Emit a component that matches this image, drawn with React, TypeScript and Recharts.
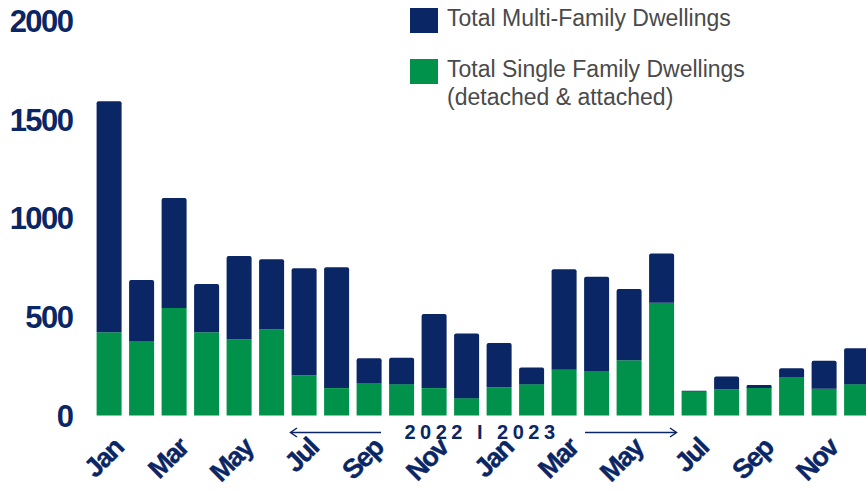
import { Bar, BarChart, XAxis, YAxis } from "recharts";

const NAVY = "#0a2664";
const GREEN = "#00924a";

const months = [
  "Jan 2022", "Feb 2022", "Mar 2022", "Apr 2022", "May 2022", "Jun 2022",
  "Jul 2022", "Aug 2022", "Sep 2022", "Oct 2022", "Nov 2022", "Dec 2022",
  "Jan 2023", "Feb 2023", "Mar 2023", "Apr 2023", "May 2023", "Jun 2023",
  "Jul 2023", "Aug 2023", "Sep 2023", "Oct 2023", "Nov 2023", "Dec 2023",
];

const singleFamily = [
  422, 378, 545, 422, 385, 436, 204, 139, 165, 159, 139, 88,
  144, 159, 232, 226, 280, 572, 120, 134, 140, 195, 136, 159,
];

const multiFamily = [
  1171, 309, 558, 245, 424, 356, 542, 612, 125, 134, 375, 328,
  224, 84, 509, 478, 361, 249, 6, 64, 14, 44, 142, 182,
];

const yTicks = [0, 500, 1000, 1500, 2000];

const seriesNames = {
  multi: "Total Multi-Family Dwellings",
  single: ["Total Single Family Dwellings", "(detached & attached)"],
};

const data = months.map((m, i) => ({
  month: m,
  single: singleFamily[i],
  multi: multiFamily[i],
}));

const FONT = "'Liberation Sans', Arial, sans-serif";

function MonthTick({ x, y, payload }: any) {
  return (
    <g transform={`translate(${x + 16},${y + 26}) rotate(-45)`}>
      <text
        textAnchor="end"
        fill={NAVY}
        stroke={NAVY}
        strokeWidth={0.4}
        fontSize={27}
        fontWeight={700}
        fontFamily={FONT}
        letterSpacing={-1.6}
      >
        {String(payload.value).split(" ")[0]}
      </text>
    </g>
  );
}

function LegendBox() {
  const row = { display: "flex", alignItems: "flex-start" } as const;
  const swatch = (c: string) => ({
    width: 28,
    height: 25,
    background: c,
    marginRight: 9,
    flexShrink: 0,
  });
  return (
    <div
      style={{
        position: "absolute",
        left: 410,
        top: 8,
        fontFamily: FONT,
        fontSize: 23,
        color: "#4a4a4a",
        lineHeight: "27.5px",
      }}
    >
      <div style={row}>
        <div style={swatch(NAVY)} />
        <div style={{ marginTop: -3 }}>{seriesNames.multi}</div>
      </div>
      <div style={{ ...row, marginTop: 26 }}>
        <div style={swatch(GREEN)} />
        <div style={{ marginTop: -3 }}>
          {seriesNames.single[0]}
          <br />
          {seriesNames.single[1]}
        </div>
      </div>
    </div>
  );
}

function PeriodNote() {
  return (
    <svg
      width={866}
      height={491}
      style={{ position: "absolute", left: 0, top: 0, pointerEvents: "none" }}
    >
      <line x1={381} y1={432.5} x2={291} y2={432.5} stroke={NAVY} strokeWidth={1.5} />
      <polyline points="297,428 290.5,432.5 297,437" fill="none" stroke={NAVY} strokeWidth={1.5} />
      <line x1={585} y1={432.5} x2={676} y2={432.5} stroke={NAVY} strokeWidth={1.5} />
      <polyline points="670,428 676.5,432.5 670,437" fill="none" stroke={NAVY} strokeWidth={1.5} />
      <text
        x={482}
        y={439}
        textAnchor="middle"
        fill={NAVY}
        fontSize={20}
        fontWeight={700}
        fontFamily={FONT}
        letterSpacing={4.5}
      >
        2022 I 2023
      </text>
    </svg>
  );
}

export default function App() {
  return (
    <div
      style={{
        position: "fixed",
        left: 0,
        top: 0,
        width: 866,
        height: 491,
        overflow: "hidden",
        background: "#fff",
      }}
    >
      <BarChart
        width={880}
        height={491}
        data={data}
        margin={{ top: 21, right: 7.4, bottom: 0, left: 0 }}
        barCategoryGap={4}
      >
        <XAxis
          dataKey="month"
          interval={1}
          height={75.5}
          axisLine={false}
          tickLine={false}
          tick={<MonthTick />}
        />
        <YAxis
          domain={[0, 2000]}
          ticks={yTicks}
          width={92.6}
          axisLine={false}
          tickLine={false}
          tickMargin={14}
          tick={{
            fill: NAVY,
            fontSize: 31,
            fontWeight: 700,
            fontFamily: FONT,
            letterSpacing: -1.5,
          }}
        />
        <Bar
          dataKey="single"
          name="Total Single Family Dwellings (detached & attached)"
          stackId="a"
          fill={GREEN}
          isAnimationActive={false}
        />
        <Bar
          dataKey="multi"
          name="Total Multi-Family Dwellings"
          stackId="a"
          fill={NAVY}
          radius={[2, 2, 0, 0]}
          isAnimationActive={false}
        />
      </BarChart>
      <LegendBox />
      <PeriodNote />
    </div>
  );
}
